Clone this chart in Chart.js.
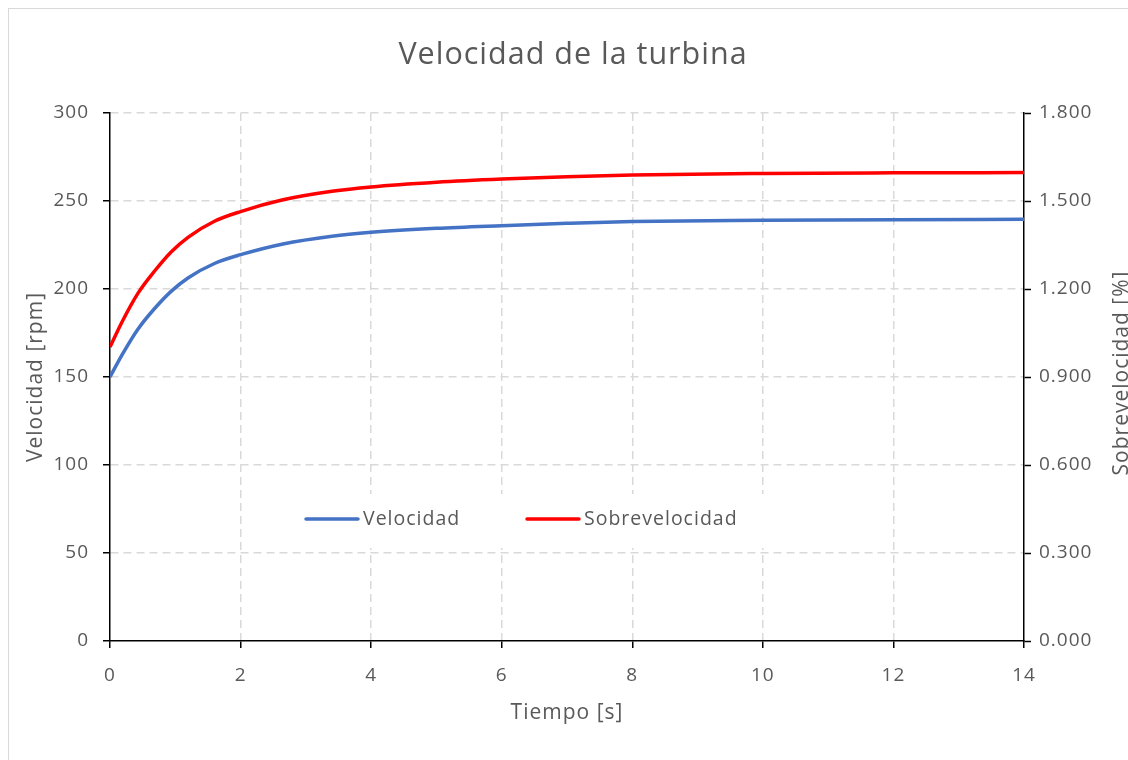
<!DOCTYPE html>
<html>
<head>
<meta charset="utf-8">
<script src="https://cdn.jsdelivr.net/npm/chart.js@4.4.1/dist/chart.umd.min.js"></script>
<style>
html, body { margin: 0; padding: 0; background: #fff; overflow: hidden; }
#wrap { position: relative; width: 1128px; height: 760px; }
#frame { position: absolute; left: 8px; top: 8px; width: 1300px; height: 900px; border: 1px solid #d9d9d9; }
#chart { position: absolute; left: 0; top: 0; }
</style>
</head>
<body>
<div id="wrap">
  <div id="frame"></div>
  <canvas id="chart" width="1128" height="760"></canvas>
</div>
<script>
// values
const tiempo = [0, 0.18, 0.43, 0.69, 0.94, 1.2, 1.6, 2, 2.65, 3.4, 4, 5, 6, 7, 8, 10, 12, 14];
const velocidad = [150, 162.3, 177.3, 189.2, 198.8, 206.4, 214.5, 219.5, 225.6, 230, 232.2, 234.5, 236, 237.3, 238.3, 239, 239.4, 239.6];
const sobrevelocidad = [1.002, 1.086, 1.186, 1.263, 1.327, 1.377, 1.431, 1.464, 1.504, 1.533, 1.548, 1.564, 1.575, 1.583, 1.589, 1.594, 1.596, 1.597];

const titulo = "Velocidad de la turbina";
const tituloX = "Tiempo [s]";
const tituloY = "Velocidad [rpm]";
const tituloY2 = "Sobrevelocidad [%]";

let textColor = "#595959";
let gridColor = "#d9d9d9";
let fontFamily = "'Open Sans', sans-serif";

Chart.defaults.font.family = fontFamily;
Chart.defaults.color = textColor;

// grid colour that hides the line where an axis already is
function gridFor(edgeValues) {
    return function(c) {
        if (c.tick && edgeValues.includes(c.tick.value)) return "rgba(0,0,0,0)";
        return gridColor;
    };
}

// the Excel font is wider than Open Sans, open it up a little
let wideText = {
    id: "wideText",
    beforeDraw(chart) {
        chart.ctx.letterSpacing = "1px";
    }
};

let legendInside = {
    id: "legendInside",
    beforeDatasetsDraw(chart) {
        let ctx = chart.ctx;
        let yMid = 519;
        let starts = [306, 527];
        ctx.save();
        ctx.fillStyle = "#fff";
        ctx.fillRect(265, 494, 512, 54);
        ctx.font = "19.5px " + fontFamily;
        ctx.textBaseline = "middle";
        ctx.textAlign = "left";
        chart.data.datasets.forEach((ds, i) => {
            let x = starts[i];
            ctx.strokeStyle = ds.borderColor;
            ctx.lineWidth = 3.5;
            ctx.lineCap = "round";
            ctx.beginPath();
            ctx.moveTo(x, yMid);
            ctx.lineTo(x + 52, yMid);
            ctx.stroke();
            ctx.fillStyle = textColor;
            ctx.fillText(ds.label, x + 57, yMid);
        });
        ctx.restore();
    }
};

let rightTitle = {
    id: "rightTitle",
    afterDraw(chart) {
        let ctx = chart.ctx;
        let area = chart.chartArea;
        ctx.save();
        ctx.translate(1122, (area.top + area.bottom) / 2 - 4);
        ctx.rotate(-Math.PI / 2);
        ctx.font = "21px " + fontFamily;
        ctx.fillStyle = textColor;
        ctx.textAlign = "center";
        ctx.textBaseline = "middle";
        ctx.fillText(tituloY2, 0, 0);
        ctx.restore();
    }
};

let chart = new Chart(document.getElementById("chart"), {
    type: "line",
    data: {
        datasets: [{
            label: "Velocidad",
            data: tiempo.map((t, i) => ({ x: t, y: velocidad[i] })),
            borderColor: "#4472C4",
            borderWidth: 3.5,
            pointRadius: 0,
            cubicInterpolationMode: "monotone",
            yAxisID: "y"
        }, {
            label: "Sobrevelocidad",
            data: tiempo.map((t, i) => ({ x: t, y: sobrevelocidad[i] })),
            borderColor: "#FF0000",
            borderWidth: 3.5,
            pointRadius: 0,
            cubicInterpolationMode: "monotone",
            yAxisID: "y2"
        }]
    },
    options: {
        responsive: false,
        animation: false,
        layout: { padding: { left: 18, right: 0, top: 0, bottom: 0 } },
        plugins: {
            legend: { display: false },
            tooltip: { enabled: false },
            title: {
                display: true,
                text: titulo,
                color: textColor,
                font: { size: 30.5, weight: "normal" },
                padding: { top: 37, bottom: 39.4 }
            }
        },
        scales: {
            x: {
                type: "linear",
                min: 0,
                max: 14,
                ticks: { stepSize: 2, padding: 16, font: { size: 19 }, color: textColor },
                grid: { color: gridFor([0, 14]), lineWidth: 1.5, tickColor: "#000", tickLength: 7, tickWidth: 1.5, tickBorderDash: [] },
                border: { display: true, color: "#000", width: 1.5, dash: [8, 5] },
                title: { display: true, text: tituloX, color: textColor, font: { size: 21 }, padding: { top: 0, bottom: 34 } },
                afterFit: s => { s.height = 119; }
            },
            y: {
                position: "left",
                min: 0,
                max: 300,
                ticks: { stepSize: 50, padding: 14, font: { size: 19 }, color: textColor },
                grid: { color: gridFor([0]), lineWidth: 1.5, tickColor: "#000", tickLength: 7, tickWidth: 1.5, tickBorderDash: [] },
                border: { display: true, color: "#000", width: 1.5, dash: [8, 5] },
                title: { display: true, text: tituloY, color: textColor, font: { size: 21 }, padding: { top: 5, bottom: 0 } },
                afterFit: s => { s.width = 92; }
            },
            y2: {
                position: "right",
                min: 0,
                max: 1.8,
                ticks: {
                    stepSize: 0.3,
                    padding: 8,
                    font: { size: 19 },
                    color: textColor,
                    callback: v => v.toFixed(3)
                },
                grid: { drawOnChartArea: false, tickColor: "#000", tickLength: 7, tickWidth: 1.5, tickBorderDash: [] },
                border: { display: true, color: "#000", width: 1.5 },
                title: { display: false },
                afterFit: s => { s.width = 104; }
            }
        }
    },
    plugins: [wideText, legendInside, rightTitle]
});
</script>
</body>
</html>
